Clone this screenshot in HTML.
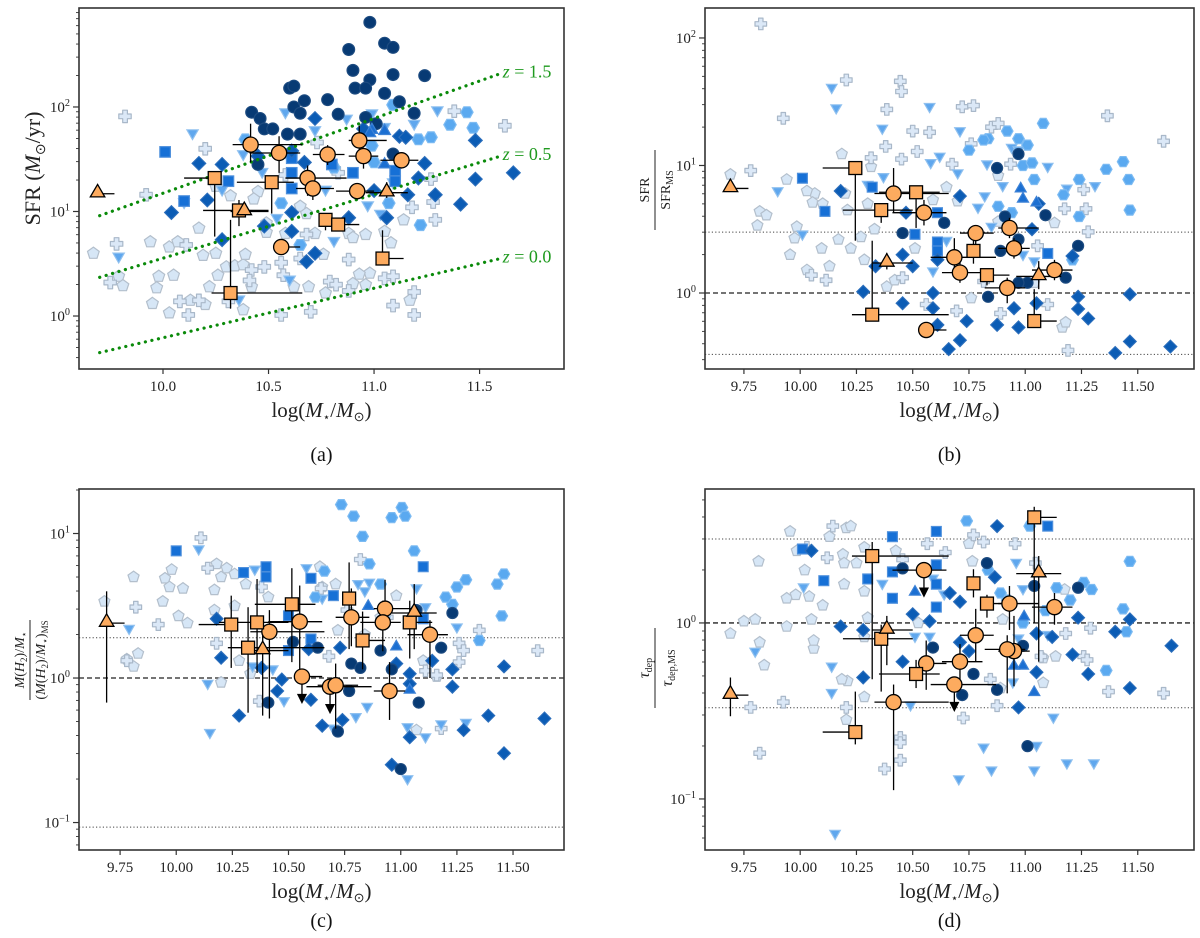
<!DOCTYPE html>
<html><head><meta charset="utf-8"><style>
html,body{margin:0;padding:0;background:#fff;}
svg{display:block;font-family:"Liberation Serif",serif;}
</style></head><body>
<svg id="fig" width="1200" height="938" viewBox="0 0 1200 938" xmlns="http://www.w3.org/2000/svg"></svg>
<script>
// ---------- DATA: shared orange galaxies ----------
const galShape=['c','c','c','c','c','c','c','c','c','c','s','s','s','s','s','s','s','t','t','t'];
const galM=[10.415,10.55,10.78,10.93,10.95,11.13,10.685,10.71,10.92,10.56,10.245,10.515,10.36,10.77,10.83,11.04,10.32,9.69,10.385,11.06];
const galXlo=[10.33,10.41,10.71,10.88,10.88,11.03,10.58,10.63,10.82,10.56,10.10,10.35,10.19,10.74,10.83,11.04,10.23,9.69,10.32,10.96];
const galXhi=[10.66,10.65,10.86,11.06,11.02,11.21,10.87,10.81,11.00,10.65,10.27,10.62,10.50,10.80,10.93,11.14,10.66,9.77,10.50,11.16];
// panel a
const aOrangeL=[1.64,1.56,1.545,1.68,1.53,1.49,1.32,1.22,1.195,0.66,1.32,1.28,1.01,0.92,0.875,0.55,0.22,1.17,1.0,1.18];
const aOrangeDn=[0.17,0.19,0.1,0.1,0.12,0.08,0.17,0.11,0.08,0.05,0.56,0.3,0.15,0.1,0.05,0,0.15,0,0,0.05];
const aOrangeUp=[0.2,0.16,0.09,0.14,0.08,0.06,0.12,0.08,0.06,0.06,0.05,0.05,0.1,0.05,0.05,0.27,0.7,0,0.05,0.1];
const aOrangeLim=[0,0,0,0,0,0,0,0,0,0,0,0,0,0,0,0,0,0,0,0];
const bOrangeL=[0.78,0.63,0.47,0.51,0.35,0.18,0.28,0.16,0.04,-0.29,0.98,0.79,0.65,0.33,0.14,-0.22,-0.17,0.82,0.235,0.13];
const bOrangeDn=[0.15,0.1,0.1,0.08,0.08,0.08,0.12,0.08,0.12,0.05,0.57,0.28,0.1,0.1,0.08,0,0,0,0.05,0.1];
const bOrangeUp=[0.2,0.1,0.05,0.08,0.08,0.08,0.15,0.08,0.08,0.05,0,0.05,0.05,0.1,0.05,0.25,0.58,0,0.08,0.12];
const bOrangeLim=aOrangeLim;
const cOrangeL=[0.32,0.39,0.42,0.48,-0.09,0.30,-0.06,-0.05,0.385,0.01,0.37,0.51,0.385,0.55,0.26,0.385,0.21,0.38,0.19,0.45];
const cOrangeDn=[0.6,0.35,0.2,0.15,0.2,0.3,0.15,0.3,0.2,0.1,0.3,0.4,0.35,0.35,0.2,0.25,0.45,0.55,0.45,0.25];
const cOrangeUp=[0.15,0.25,0.2,0.2,0.2,0.1,0,0.15,0.15,0,0.2,0.25,0.3,0.25,0.2,0.15,0.28,0.22,0.15,0.2];
const cOrangeLim=[0,0,0,0,0,0,1,0,0,1,0,0,0,0,0,0,0,0,0,0];
const dOrangeL=[-0.45,0.30,-0.07,0.11,-0.16,0.09,-0.35,-0.22,-0.15,-0.23,-0.62,-0.29,-0.09,0.225,0.11,0.60,0.38,-0.41,-0.04,0.28];
const dOrangeDn=[0.5,0.1,0.15,0.15,0.2,0.1,0.1,0.1,0.25,0.15,0.07,0.08,0.3,0.08,0.08,0.6,0.7,0.12,0.2,0.5];
const dOrangeUp=[0.1,0,0.15,0.1,0.2,0.08,0,0.1,0.08,0.13,0.23,0.08,0.08,0.08,0.05,0.06,0.08,0.1,0.08,0.1];
const dOrangeLim=[0,1,0,0,0,0,1,0,0,0,0,0,0,0,0,0,0,0,0,0];

// panel a background (logMass, logSFR)
const aPent=[[9.67,0.60],[9.79,0.38],[9.81,0.29],[9.94,0.71],[9.98,0.38],[10.03,0.66],[10.07,0.71],[10.05,0.39],[9.95,0.12],[9.97,0.27],[10.03,0.03],[10.13,0.15],[10.17,0.84],[10.19,0.58],[10.25,0.60],[10.26,0.39],[10.22,0.28],[10.20,0.11],[10.30,0.47],[10.34,0.48],[10.38,0.49],[10.39,0.59],[10.42,0.28],[10.38,0.06],[10.49,0.80],[10.45,1.19],[10.49,0.89],[10.62,0.28],[10.69,0.28],[10.76,0.59],[10.77,0.22],[10.88,0.79],[10.90,0.75],[10.96,0.78],[10.90,0.31],[10.96,0.30],[10.98,0.41],[10.93,0.40],[11.05,0.81],[11.08,0.70],[11.17,0.15],[11.14,0.92],[10.65,1.05],[10.68,0.98],[10.72,0.79],[10.58,0.79],[10.25,1.24],[10.32,1.15],[10.43,1.12]];
const aCross=[[9.82,1.91],[10.20,1.60],[9.92,1.16],[9.78,0.69],[9.75,0.32],[10.11,0.68],[10.08,0.14],[10.12,0.01],[10.17,0.15],[10.31,0.14],[10.42,0.44],[10.41,0.34],[10.48,0.47],[10.56,0.51],[10.57,0.39],[10.56,0.01],[10.65,0.55],[10.70,0.04],[10.79,0.33],[10.82,0.30],[10.88,0.24],[10.88,0.54],[11.05,0.36],[11.09,0.10],[11.19,0.23],[11.19,0.01],[11.09,0.38],[11.29,0.92],[11.28,1.09],[11.18,1.04],[11.38,1.96],[11.62,1.82],[11.27,1.31],[10.73,1.66],[10.83,1.37],[10.68,0.78],[10.58,1.35]];
const aDtri=[[10.14,1.76],[9.79,0.58],[10.10,1.10],[10.58,1.96],[10.87,1.90],[10.99,1.95],[11.19,1.85],[11.30,1.98],[10.77,1.22],[10.54,0.95],[10.81,0.73],[10.97,1.07],[11.03,0.99],[10.58,1.58],[10.38,1.56],[10.28,1.22],[10.60,0.36],[10.36,0.17],[10.47,1.39],[10.72,1.79],[11.05,1.82],[11.09,1.29]];
const aHex=[[11.36,1.83],[11.44,1.95],[11.47,1.80],[11.21,1.69],[11.27,1.71],[11.09,2.02],[10.99,1.63],[11.0,1.47],[11.22,0.87],[11.07,1.08],[10.56,1.08],[10.65,0.68],[10.81,1.42],[10.39,1.69]];
const aSq=[[10.01,1.57],[10.31,1.29],[10.61,1.51],[10.61,1.37],[10.61,1.22],[10.90,1.37],[11.10,1.39],[11.10,1.29],[10.80,1.45],[10.10,1.10]];
const aDia=[[11.48,1.68],[11.48,1.31],[11.66,1.37],[11.41,1.07],[11.24,1.46],[11.12,1.72],[11.29,1.16],[10.72,1.89],[10.67,1.47],[10.28,1.45],[10.17,1.46],[10.21,1.11],[10.04,0.99],[10.28,0.73],[10.48,0.86],[10.61,0.81],[10.61,0.99],[10.88,0.94],[11.06,0.94],[10.72,0.60],[10.68,0.52],[11.0,1.2],[11.16,1.16],[11.21,1.32],[11.15,1.71],[10.95,1.79],[10.61,1.58],[10.45,1.53]];
const aNavy=[[10.98,2.81],[10.88,2.55],[11.05,2.61],[11.09,2.57],[10.90,2.35],[11.09,2.31],[11.24,2.30],[10.98,2.26],[10.60,2.18],[10.62,2.20],[10.91,2.18],[10.96,2.18],[11.05,2.13],[10.67,2.06],[10.78,2.07],[10.62,2.00],[11.12,2.05],[10.42,1.95],[10.46,1.89],[10.65,1.94],[11.19,1.94],[11.01,1.84],[10.48,1.79],[10.52,1.79],[10.59,1.74],[10.65,1.74],[10.83,1.93],[11.09,1.55],[10.45,1.45],[10.96,1.90]];
const aUtri=[[10.99,1.77],[11.05,1.76],[10.98,1.74],[11.05,1.44]];
// MS lines (logMass endpoints, logSFR endpoints)
const msLabels=['z = 1.5','z = 0.5','z = 0.0'];
const msM0=[9.70,9.70,9.70], msM1=[11.60,11.60,11.60];
const msL0=[0.96,0.37,-0.35], msL1=[2.32,1.53,0.55];

// panel b
const bPent=[[9.69,0.93],[9.82,0.64],[9.85,0.61],[9.81,0.53],[9.94,0.89],[9.985,0.52],[9.975,0.43],[9.955,0.30],[10.03,0.18],[10.065,0.78],[10.03,0.80],[10.055,0.71],[10.10,0.70],[10.13,0.21],[10.17,0.42],[10.185,1.09],[10.20,0.78],[10.225,0.35],[10.27,0.44],[10.315,0.99],[10.33,0.50],[10.385,0.05],[10.42,0.10],[10.59,0.73],[10.65,0.83],[10.70,0.72],[10.76,-0.04],[10.88,0.92],[10.88,0.56],[11.04,0.08],[11.13,0.55],[11.165,-0.27],[11.18,-0.23],[10.21,0.65],[10.095,0.35],[10.285,0.26],[10.51,0.35],[10.30,0.70]];
const bCross=[[9.825,2.11],[9.925,1.37],[9.78,0.96],[10.205,1.67],[10.445,1.66],[10.45,1.58],[10.385,1.44],[10.38,1.15],[10.50,1.27],[10.575,1.26],[10.52,1.11],[10.45,1.05],[10.72,1.46],[10.77,1.47],[10.76,1.17],[10.85,1.30],[10.88,1.33],[10.935,1.01],[10.675,1.01],[10.315,1.06],[11.175,0.66],[11.26,0.81],[11.27,0.66],[11.28,0.48],[11.365,1.39],[11.615,1.19],[11.10,-0.09],[10.695,-0.14],[10.56,-0.09],[10.89,-0.16],[11.19,-0.45],[10.115,0.10],[10.05,0.14],[10.455,0.12],[10.815,0.09],[11.055,0.37]];
const bDtri=[[10.14,1.62],[10.16,1.46],[10.365,1.30],[10.575,1.47],[10.71,1.28],[10.58,1.03],[10.62,1.08],[10.70,0.95],[10.83,1.02],[10.94,1.15],[10.97,1.13],[11.10,1.00],[11.185,0.83],[11.31,0.85],[10.82,0.77],[10.90,0.85],[9.90,0.81],[10.01,0.47],[10.37,0.92],[10.79,0.68],[10.99,0.31],[11.04,0.26],[10.59,0.18],[10.65,0.42],[10.85,0.53],[10.30,0.86]];
const bHex=[[11.08,1.33],[10.97,1.21],[11.01,1.16],[10.92,1.27],[10.835,1.21],[10.99,1.0],[11.03,1.02],[11.04,0.89],[11.17,0.77],[11.24,0.89],[11.24,0.60],[11.36,0.97],[11.435,1.03],[11.46,0.89],[11.465,0.65],[10.75,1.12],[10.815,1.20],[10.88,0.68],[10.94,0.63],[11.21,0.26]];
const bSq=[[10.01,0.90],[10.11,0.64],[10.61,0.40],[10.61,0.33],[10.51,0.46],[11.10,0.31],[10.61,0.63],[10.32,0.83]];
const bDia=[[10.18,0.80],[10.28,0.01],[10.455,-0.08],[10.59,0.0],[10.59,-0.12],[10.61,-0.25],[10.66,-0.44],[10.71,-0.37],[10.74,-0.22],[10.875,-0.25],[10.95,-0.12],[10.97,-0.27],[11.235,-0.03],[11.235,-0.125],[11.28,-0.20],[11.40,-0.47],[11.465,-0.38],[11.465,-0.01],[11.645,-0.42],[11.05,-0.08],[10.50,0.21],[10.455,0.30],[10.47,0.63],[10.61,0.26],[10.71,0.76],[10.335,0.21],[11.06,0.70],[11.03,0.50],[11.21,0.29],[10.92,0.03]];
const bNavy=[[10.97,1.09],[10.875,0.98],[11.235,0.37],[11.18,0.12],[10.97,0.42],[10.91,0.60],[10.835,-0.03],[11.09,0.61],[11.01,0.08],[10.97,0.08],[10.455,0.47],[10.64,0.55],[10.89,0.33]];
const bUtri=[[10.98,0.81],[11.05,0.70],[10.99,0.73]];

// panel c
const cPent=[[9.68,0.53],[9.81,0.70],[9.95,0.69],[9.98,0.75],[9.94,0.53],[9.97,0.63],[10.03,0.62],[10.01,0.43],[10.05,0.38],[10.18,0.79],[10.225,0.76],[10.26,0.72],[10.31,0.65],[10.20,0.70],[10.17,0.47],[10.26,0.50],[10.28,0.12],[10.20,-0.03],[10.33,0.03],[10.64,0.77],[10.65,0.63],[10.71,0.65],[10.72,0.33],[10.84,0.30],[10.91,0.42],[10.98,0.57],[11.07,-0.36],[11.16,0.01],[11.10,0.12],[9.78,0.13],[9.83,0.17],[9.81,0.08],[10.41,0.56],[10.17,0.61]];
const cCross=[[10.11,0.97],[10.14,0.76],[9.92,0.37],[9.78,0.12],[9.82,0.49],[10.18,0.24],[10.38,0.63],[10.645,0.62],[10.82,0.82],[10.68,0.15],[10.94,0.42],[11.35,0.33],[11.26,0.24],[11.28,0.19],[11.26,0.11],[11.61,0.19],[11.18,-0.35],[10.37,-0.16],[11.11,0.05],[11.16,0.02],[10.76,0.47]];
const cDtri=[[10.10,0.90],[10.14,-0.03],[10.15,-0.37],[9.79,0.35],[10.58,0.77],[10.81,0.66],[10.86,0.67],[10.84,0.61],[10.93,0.41],[11.07,0.63],[11.11,0.50],[11.25,0.36],[11.29,-0.30],[11.18,-0.31],[11.11,-0.40],[11.03,-0.69],[11.03,-0.33],[10.80,-0.26],[10.85,-0.19],[10.70,-0.34],[10.48,-0.15],[10.43,0.07],[10.35,0.76],[10.65,0.56],[10.34,0.09]];
const cHex=[[10.735,1.20],[11.005,1.18],[10.79,1.12],[10.96,1.11],[11.02,1.12],[10.83,0.98],[11.06,0.88],[10.86,0.79],[11.46,0.72],[11.43,0.65],[11.29,0.68],[11.25,0.63],[11.23,0.51],[11.20,0.56],[11.45,0.43],[11.35,0.26],[10.66,0.74],[10.62,0.56],[10.91,0.65]];
const cSq=[[10.0,0.88],[10.30,0.73],[10.40,0.77],[10.40,0.70],[10.60,0.69],[10.70,0.57],[11.10,0.77],[10.50,0.43],[10.50,0.19],[10.60,0.27],[11.10,0.41]];
const cDia=[[10.28,-0.26],[10.20,0.14],[10.18,0.41],[10.45,-0.09],[10.47,-0.01],[10.60,-0.15],[10.65,-0.33],[10.74,-0.29],[10.96,-0.60],[11.04,-0.41],[11.04,-0.04],[11.04,0.03],[11.23,0.06],[11.23,-0.06],[11.28,-0.36],[11.39,-0.26],[11.46,0.08],[11.46,-0.52],[11.64,-0.28],[10.73,0.21],[10.59,0.20],[11.14,0.12],[10.98,0.10],[10.38,0.07]];
const cNavy=[[11.23,0.45],[11.18,0.21],[11.08,-0.17],[11.0,-0.63],[10.72,-0.37],[10.41,-0.17],[10.77,-0.09],[10.78,0.10],[10.82,0.07],[10.96,0.06],[10.63,0.21],[11.07,0.47],[10.52,0.25],[10.70,-0.06],[10.91,0.19]];
const cUtri=[[10.98,0.21],[11.04,-0.09],[10.855,0.49]];

// panel d
const dPent=[[9.955,0.52],[9.815,0.35],[9.69,-0.06],[9.75,0.01],[9.80,0.02],[9.82,-0.11],[9.84,-0.24],[9.94,-0.02],[9.94,0.14],[9.98,0.16],[10.04,0.15],[9.985,0.41],[10.02,0.30],[10.10,0.10],[10.05,0.02],[10.06,-0.145],[10.205,0.54],[10.225,0.55],[10.13,0.49],[10.19,0.39],[10.195,0.34],[10.285,0.43],[10.25,0.34],[10.285,0.18],[10.195,0.22],[10.285,-0.08],[10.21,-0.33],[10.205,-0.55],[10.185,-0.32],[10.285,-0.42],[10.425,0.41],[10.75,0.45],[10.765,0.35],[10.90,0.02],[11.135,-0.19],[11.08,-0.34],[11.08,-0.20],[10.89,-0.37],[11.175,0.19],[10.525,0.0],[10.30,0.03],[10.06,-0.10]];
const dCross=[[10.145,0.55],[10.12,0.37],[10.03,0.43],[9.82,-0.74],[9.78,-0.48],[9.925,-0.45],[10.445,-0.65],[10.445,-0.68],[10.445,-0.78],[10.375,-0.83],[10.205,-0.48],[10.725,-0.54],[10.875,-0.47],[10.845,-0.32],[11.37,-0.39],[11.615,-0.40],[11.26,-0.19],[11.275,-0.21],[11.18,-0.06],[11.29,-0.03],[10.77,0.50],[10.815,0.46],[10.955,0.45],[11.045,0.34],[10.565,0.45],[10.645,0.40],[11.07,-0.19],[10.455,0.36]];
const dDtri=[[10.155,-1.19],[10.705,-0.88],[10.85,-0.83],[11.04,-0.83],[10.815,-0.70],[11.05,-0.69],[11.185,-0.79],[11.305,-0.79],[11.125,-0.53],[10.14,-0.24],[10.14,-0.39],[9.80,-0.155],[10.015,0.21],[10.49,-0.46],[10.945,-0.33],[10.51,-0.07],[10.575,-0.07],[10.365,0.23],[10.96,0.35],[10.99,0.20],[11.10,-0.06],[10.64,0.17],[10.97,-0.08],[10.59,0.26]];
const dHex=[[10.74,0.58],[11.02,0.55],[11.465,0.35],[11.435,0.08],[11.36,-0.27],[11.26,0.23],[11.295,0.19],[11.14,0.20],[10.92,0.13],[10.89,0.17],[11.09,0.07],[11.45,-0.05],[10.99,0.0],[10.835,0.30],[11.20,0.13]];
const dSq=[[10.41,0.49],[10.605,0.52],[10.105,0.24],[10.01,0.42],[10.41,0.29],[10.41,0.14],[10.605,0.33],[10.605,0.22],[10.605,0.09],[11.10,0.55],[10.30,0.25]];
const dDia=[[10.875,0.55],[10.05,0.41],[10.18,-0.02],[10.28,-0.04],[10.28,-0.31],[10.455,-0.22],[10.50,0.05],[10.665,0.17],[10.71,0.12],[10.865,0.26],[11.05,-0.28],[10.97,-0.48],[11.21,-0.18],[11.235,0.03],[11.28,-0.29],[11.40,-0.05],[11.465,0.02],[11.465,-0.37],[11.65,-0.13],[11.12,-0.08],[11.05,-0.06],[10.71,-0.11],[10.75,-0.16],[10.575,0.01]];
const dNavy=[[11.01,-0.70],[10.77,-0.29],[10.72,-0.41],[10.875,-0.38],[10.83,0.34],[10.455,0.31],[11.235,0.20],[10.59,-0.14],[11.04,0.21],[10.99,-0.13]];
const dUtri=[[10.995,0.03],[10.95,-0.25],[10.99,-0.25],[11.04,-0.40],[10.51,0.17]];

// tick labels
const xTicksA=['10.0','10.5','11.0','11.5'];
const xTicksB=['9.75','10.00','10.25','10.50','10.75','11.00','11.25','11.50'];
const refB=[3,0.33], refC=[1.9,0.093], refD=[3,0.33];

// ---------- RENDER ----------
const NS='http://www.w3.org/2000/svg';
const svg=document.getElementById('fig');
function el(tag,attrs,parent){const e=document.createElementNS(NS,tag);for(const k in attrs)e.setAttribute(k,attrs[k]);(parent||svg).appendChild(e);return e;}

const panels={
 a:{x0:79,x1:564,y0:8,y1:369,xmin:9.602,xmax:11.900,lmin:-0.507,lmax:2.947},
 b:{x0:705,x1:1194,y0:8,y1:369,xmin:9.577,xmax:11.75,lmin:-0.596,lmax:2.235},
 c:{x0:79,x1:564,y0:489,y1:850,xmin:9.567,xmax:11.727,lmin:-1.190,lmax:1.308},
 d:{x0:705,x1:1194,y0:489,y1:850,xmin:9.577,xmax:11.75,lmin:-1.290,lmax:0.761}
};
function X(p,m){return p.x0+(m-p.xmin)/(p.xmax-p.xmin)*(p.x1-p.x0);}
function Y(p,l){return p.y1-(l-p.lmin)/(p.lmax-p.lmin)*(p.y1-p.y0);}

const STY={
 pent:{fill:'#d6e6f6',stroke:'#b3bfcc'},
 cross:{fill:'#dbe8f7',stroke:'#a9b8c9'},
 dtri:{fill:'#5fa7ee',stroke:'#8fc0ef'},
 hex:{fill:'#5aa9f0',stroke:'#7dbbf2'},
 sq:{fill:'#1670d6',stroke:'#4d8fdc'},
 dia:{fill:'#0b5cb5',stroke:'#2a6dbb'},
 navy:{fill:'#073a74',stroke:'#1d4b80'},
 utri:{fill:'#1b6fd2',stroke:'#3d82d6'},
 orange:{fill:'#fdab5f',stroke:'#000'}
};
function poly(cx,cy,r,n,rot){let s=[];for(let i=0;i<n;i++){const a=rot+i*2*Math.PI/n;s.push((cx+r*Math.cos(a)).toFixed(1)+','+(cy+r*Math.sin(a)).toFixed(1));}return s.join(' ');}
function marker(g,type,cx,cy,r,st,name){
 let e;
 const base={fill:st.fill,stroke:st.stroke,'stroke-width':st.sw||1.2};
 if(type==='pent')e=el('polygon',Object.assign({points:poly(cx,cy,r,5,-Math.PI/2)},base),g);
 else if(type==='hex')e=el('polygon',Object.assign({points:poly(cx,cy,r,6,0)},base),g);
 else if(type==='dtri')e=el('polygon',Object.assign({points:poly(cx,cy+1,r*1.05,3,Math.PI/2)},base),g);
 else if(type==='utri'||type==='t')e=el('polygon',Object.assign({points:poly(cx,cy-1,r*1.1,3,-Math.PI/2)},base),g);
 else if(type==='dia')e=el('polygon',Object.assign({points:poly(cx,cy,r*1.1,4,0)},base),g);
 else if(type==='sq'||type==='s')e=el('rect',Object.assign({x:cx-r*0.85,y:cy-r*0.85,width:r*1.7,height:r*1.7},base),g);
 else if(type==='cross'){const w=r*0.38;const pts=[[-w,-r],[w,-r],[w,-w],[r,-w],[r,w],[w,w],[w,r],[-w,r],[-w,w],[-r,w],[-r,-w],[-w,-w]].map(q=>(cx+q[0]).toFixed(1)+','+(cy+q[1]).toFixed(1)).join(' ');e=el('polygon',Object.assign({points:pts,'stroke-linejoin':'round'},base),g);}
 else e=el('circle',Object.assign({cx:cx,cy:cy,r:r},base),g);
 
 
 return e;
}
function sup(t,base,exp,x,y,fs){t.setAttribute('x',x);t.setAttribute('y',y);t.setAttribute('font-size',fs);
 const a=el('tspan',{},t);a.textContent=base;const b=el('tspan',{dy:-fs*0.4,'font-size':fs*0.68},t);b.textContent=exp;}

function drawPanel(key,p,xt,xvals,bg,orange,refs,ylab,label){
 const g=el('g',{});
 
 
 const clipId='clip'+key;
 const cp=el('clipPath',{id:clipId},g);el('rect',{x:p.x0,y:p.y0,width:p.x1-p.x0,height:p.y1-p.y0},cp);
 const data=el('g',{'clip-path':'url(#'+clipId+')'},g);
 
 
 // reference lines
 if(refs){
  const dl=el('line',{x1:p.x0,x2:p.x1,y1:Y(p,0),y2:Y(p,0),stroke:'#222','stroke-width':1.3,'stroke-dasharray':'5,3'},data);
  
  
  refs.forEach(v=>{const l=el('line',{x1:p.x0,x2:p.x1,y1:Y(p,Math.log10(v)),y2:Y(p,Math.log10(v)),stroke:'#444','stroke-width':1,'stroke-dasharray':'1.2,2.2'},data);
   
   });
 }
 const R=key==='a'?6.2:5.8;
 ['pent','cross','dtri','hex','sq','dia','navy','utri'].forEach(t=>{
  bg[t].forEach(pt=>marker(data,t==='navy'?'circle':t,X(p,pt[0]),Y(p,pt[1]),t==='navy'?R*0.95:R,STY[t],'point-'+t));
 });
 if(key==='a'){
  for(let i=0;i<msLabels.length;i++){
   const l=el('line',{x1:X(p,msM0[i]),y1:Y(p,msL0[i]),x2:X(p,msM1[i]),y2:Y(p,msL1[i]),stroke:'#0a8a0a','stroke-width':3.2,'stroke-dasharray':'0.1,6.6','stroke-linecap':'round'},data);
   
   
   const t=el('text',{x:X(p,msM1[i])+2,y:Y(p,msL1[i])+4,'font-size':18,fill:'#1f9a1f'},g);
   
   
   const z=el('tspan',{'font-style':'italic'},t);z.textContent='z';
   const r=el('tspan',{},t);r.textContent=msLabels[i].slice(1);
  }
 }
 // orange with error bars
 const [L,dn,up,lim]=orange;
 for(let i=0;i<galM.length;i++){
  const cx=X(p,galM[i]),cy=Y(p,L[i]);
  const eb=el('g',{stroke:'#000','stroke-width':1.3},data);
  
  
  el('line',{x1:X(p,galXlo[i]),x2:X(p,galXhi[i]),y1:cy,y2:cy},eb);
  if(lim[i]){el('line',{x1:cx,x2:cx,y1:cy,y2:cy+22},eb);el('polygon',{points:(cx-4)+','+(cy+18)+' '+(cx+4)+','+(cy+18)+' '+cx+','+(cy+26),fill:'#000'},eb);el('line',{x1:cx-5,x2:cx+5,y1:cy,y2:cy},eb);}
  else el('line',{x1:cx,x2:cx,y1:Y(p,L[i]-dn[i]),y2:Y(p,L[i]+up[i])},eb);
 }
 for(let i=0;i<galM.length;i++){
  marker(data,galShape[i],X(p,galM[i]),Y(p,L[i]),7.6,{fill:STY.orange.fill,stroke:'#000',sw:1.3},'sample-galaxy');
 }
 // frame
 const fr=el('rect',{x:p.x0,y:p.y0,width:p.x1-p.x0,height:p.y1-p.y0,fill:'none',stroke:'#333','stroke-width':1.6},g);
 
 
 // x ticks
 xvals.forEach((v,i)=>{const x=X(p,v);el('line',{x1:x,x2:x,y1:p.y1,y2:p.y1+5,stroke:'#333','stroke-width':1.2},g);
  const t=el('text',{x:x,y:p.y1+22,'font-size':15,'text-anchor':'middle',fill:'#222'},g);t.textContent=xt[i];
  
  });
 // y ticks log
 for(let d=Math.floor(p.lmin);d<=Math.ceil(p.lmax);d++){
  for(let k=1;k<10;k++){const l=d+Math.log10(k);if(l<p.lmin||l>p.lmax)continue;const y=Y(p,l);
   el('line',{x1:p.x0-(k===1?6:3),x2:p.x0,y1:y,y2:y,stroke:'#333','stroke-width':k===1?1.2:0.9},g);
   if(k===1){const t=el('text',{'text-anchor':'end',fill:'#222'},g);sup(t,'10',d<0?'\u2212'+(-d):String(d),p.x0-9,y+5,15);
    
    }
  }
 }
 // x label
 const cxm=(p.x0+p.x1)/2;
 const xl=el('text',{x:cxm,y:p.y1+48,'font-size':21,'text-anchor':'middle',fill:'#222'},g);
 
 
 xl.innerHTML='log(<tspan font-style="italic">M</tspan><tspan font-size="12" dy="4">\u22C6</tspan><tspan dy="-4">/</tspan><tspan font-style="italic">M</tspan><tspan font-size="13" dy="4">\u2299</tspan><tspan dy="-4">)</tspan>';
 const pl=el('text',{x:cxm,y:p.y1+(key==='a'||key==='b'?92:77),'font-size':20,'text-anchor':'middle',fill:'#111'},g);
 pl.textContent=label;
 
 
 ylab(g,p);
}
function yA(g,p){const t=el('text',{transform:'translate(40,'+((p.y0+p.y1)/2-20)+') rotate(-90)','font-size':22,'text-anchor':'middle',fill:'#222'},g);
 
 
 t.innerHTML='SFR (<tspan font-style="italic">M</tspan><tspan font-size="14" dy="5">\u2299</tspan><tspan dy="-5">/yr)</tspan>';}
function yFrac(num,den,cx,cy,fs){return function(g,p){const gg=el('g',{transform:'translate('+cx+','+cy+') rotate(-90)'},g);
 
 
 const a=el('text',{x:0,y:-6,'font-size':fs,'text-anchor':'middle',fill:'#222'},gg);a.innerHTML=num;
 el('line',{x1:-40,x2:40,y1:0,y2:0,stroke:'#222','stroke-width':1},gg);
 const b=el('text',{x:0,y:fs+1,'font-size':fs,'text-anchor':'middle',fill:'#222'},gg);b.innerHTML=den;};}

drawPanel('a',panels.a,xTicksA,[10,10.5,11,11.5],{pent:aPent,cross:aCross,dtri:aDtri,hex:aHex,sq:aSq,dia:aDia,navy:aNavy,utri:aUtri},[aOrangeL,aOrangeDn,aOrangeUp,aOrangeLim],null,yA,'(a)');
drawPanel('b',panels.b,xTicksB,[9.75,10,10.25,10.5,10.75,11,11.25,11.5],{pent:bPent,cross:bCross,dtri:bDtri,hex:bHex,sq:bSq,dia:bDia,navy:bNavy,utri:bUtri},[bOrangeL,bOrangeDn,bOrangeUp,bOrangeLim],refB,
 yFrac('SFR','SFR<tspan font-size="10" dy="3">MS</tspan>',655,190,14),'(b)');
drawPanel('c',panels.c,xTicksB,[9.75,10,10.25,10.5,10.75,11,11.25,11.5],{pent:cPent,cross:cCross,dtri:cDtri,hex:cHex,sq:cSq,dia:cDia,navy:cNavy,utri:cUtri},[cOrangeL,cOrangeDn,cOrangeUp,cOrangeLim],refC,
 yFrac('<tspan font-style="italic">M</tspan>(<tspan font-style="italic">H</tspan><tspan font-size="9" dy="3">2</tspan><tspan dy="-3">)/</tspan><tspan font-style="italic">M</tspan><tspan font-size="9" dy="3">\u22C6</tspan>','(<tspan font-style="italic">M</tspan>(<tspan font-style="italic">H</tspan><tspan font-size="9" dy="3">2</tspan><tspan dy="-3">)/</tspan><tspan font-style="italic">M</tspan><tspan font-size="9" dy="3">\u22C6</tspan><tspan dy="-3">)</tspan><tspan font-size="9" dy="3">MS</tspan>',30,660,14),'(c)');
drawPanel('d',panels.d,xTicksB,[9.75,10,10.25,10.5,10.75,11,11.25,11.5],{pent:dPent,cross:dCross,dtri:dDtri,hex:dHex,sq:dSq,dia:dDia,navy:dNavy,utri:dUtri},[dOrangeL,dOrangeDn,dOrangeUp,dOrangeLim],refD,
 yFrac('<tspan font-style="italic">τ</tspan><tspan font-size="10" dy="3">dep</tspan>','<tspan font-style="italic">τ</tspan><tspan font-size="10" dy="3">dep,MS</tspan>',655,668,16),'(d)');
</script>
</body></html>
